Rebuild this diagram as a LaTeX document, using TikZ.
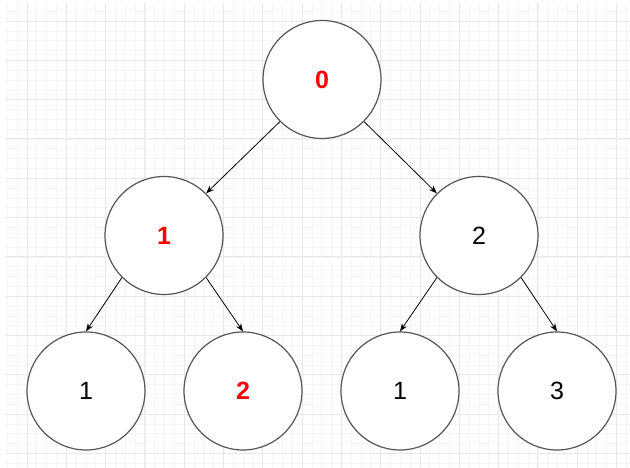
\documentclass[tikz,border=0pt]{standalone}
\usepackage{fontspec}
\setmainfont{Liberation Sans}
\usetikzlibrary{positioning,arrows.meta}

\definecolor{gridminor}{HTML}{F5F5F5}
\definecolor{gridmajor}{HTML}{E8E8E8}
\definecolor{ringgray}{HTML}{555555}

\tikzset{
    num/.style={circle,draw=ringgray,line width=1.2pt,fill=white,
        minimum size=118pt,inner sep=0pt,font=\fontsize{25}{29}\selectfont},
    hot/.style={num,text=red,font=\fontsize{25}{29}\selectfont\bfseries},
    link/.style={-{Stealth[length=8pt,width=6pt]},line width=0.8pt,black},
}

\begin{document}
\begin{tikzpicture}[x=1pt,y=1pt,on grid]
            \useasboundingbox (0,0) rectangle (630,468);
            \fill[white] (0,0) rectangle (630,468);
            % grid
            \foreach \k in {0,...,63} {
                \draw[gridminor,line width=0.8pt] ({7.35+9.825*\k},0) -- ({7.35+9.825*\k},465);
            }
            \foreach \k in {0,...,47} {
                \draw[gridminor,line width=0.8pt] (5,{456.65-9.825*\k}) -- (630,{456.65-9.825*\k});
            }
            \foreach \k in {0,...,15} {
                \draw[gridmajor,line width=0.9pt] ({27+39.3*\k},0) -- ({27+39.3*\k},465);
            }
            \foreach \k in {0,...,11} {
                \draw[gridmajor,line width=0.9pt] (5,{447-39.3*\k}) -- (630,{447-39.3*\k});
            }
            % tree
            \node[hot] (root) at (322,388.5) {0};
            \node[hot, below left=156pt and 158pt of root] (left) {1};
            \node[num, below right=156pt and 157pt of root] (right) {2};
            \node[num, below left=155.5pt and 78pt of left] (ll) {1};
            \node[hot, below right=155.5pt and 79pt of left] (lr) {2};
            \node[num, below left=155.5pt and 79pt of right] (rl) {1};
            \node[num, below right=155.5pt and 78pt of right] (rr) {3};
            \draw[link] (root.south west) -- (left.north east);
            \draw[link] (root.south east) -- (right.north west);
            \draw[link] (left.south west) -- (ll.north);
            \draw[link] (left.south east) -- (lr.north);
            \draw[link] (right.south west) -- (rl.north);
            \draw[link] (right.south east) -- (rr.north);
        \end{tikzpicture}
\end{document}
